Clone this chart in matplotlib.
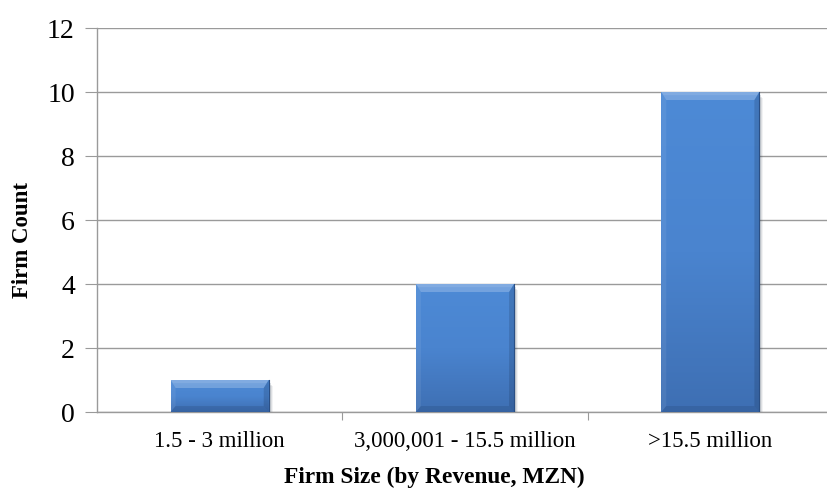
import matplotlib
matplotlib.use("Agg")
import matplotlib.pyplot as plt
import numpy as np
from matplotlib.patches import Polygon, Rectangle
from matplotlib.colors import LinearSegmentedColormap

categories = ["1.5 - 3 million", "3,000,001 - 15.5 million", ">15.5 million"]
firm_counts = [1, 4, 10]
y_ticks = [0, 2, 4, 6, 8, 10, 12]

W, H = 827, 496
fig = plt.figure(figsize=(W / 100, H / 100), dpi=100)
left, right, top, bottom = 97, 833, 28, 412
ax = fig.add_axes([left / W, 1 - bottom / H, (right - left) / W, (bottom - top) / H])

serif = ["Liberation Serif", "DejaVu Serif"]
grid_c = "#9a9a9a"

x = list(range(len(categories)))
bar_w = 0.40
bars = ax.bar(x, firm_counts, width=bar_w, color="none", edgecolor="none", zorder=3)

ax.set_xlim(-0.5, len(categories) - 0.5)
ax.set_ylim(0, 12)

grad = LinearSegmentedColormap.from_list("bar", ["#3e6fb3", "#4a84cf", "#4d8ad6"])
px_x = len(categories) / (right - left)
px_y = 12 / (bottom - top)
bt, bs, bb = 8, 5, 6  # bevel sizes in pixels: top, sides, bottom
for b in bars:
    x0, w, h = b.get_x(), b.get_width(), b.get_height()
    x1 = x0 + w
    # soft drop shadow
    for k, a in [(4, 0.06), (3, 0.09), (2, 0.12), (1, 0.16)]:
        ax.add_patch(Rectangle((x0 + k * px_x, -k * px_y * 0.6), w, h - k * px_y,
                               color="#1a2a40", alpha=a, zorder=2, lw=0))
    # vertical gradient body
    g = np.linspace(0, 1, 256).reshape(-1, 1)
    ax.imshow(g, cmap=grad, origin="lower", extent=(x0, x1, 0, h), aspect="auto",
              zorder=3, interpolation="bilinear")
    tx, ty = bs * px_x, bt * px_y
    sx = bs * px_x
    by_ = bb * px_y
    # top facet (light)
    ax.add_patch(Polygon([(x0, h), (x1, h), (x1 - tx, h - ty), (x0 + tx, h - ty)],
                         closed=True, color="white", alpha=0.22, lw=0, zorder=4))
    ax.add_patch(Polygon([(x0, h), (x1, h), (x1 - tx * 0.5, h - ty * 0.4), (x0 + tx * 0.5, h - ty * 0.4)],
                         closed=True, color="white", alpha=0.10, lw=0, zorder=4))
    # left facet
    ax.add_patch(Polygon([(x0, h), (x0 + sx, h - ty), (x0 + sx, by_), (x0, 0)],
                         closed=True, color="white", alpha=0.07, lw=0, zorder=4))
    # right facet
    ax.add_patch(Polygon([(x1, h), (x1 - sx, h - ty), (x1 - sx, by_), (x1, 0)],
                         closed=True, color="#0a1830", alpha=0.16, lw=0, zorder=4))
    # bottom facet
    ax.add_patch(Polygon([(x0, 0), (x1, 0), (x1 - sx, by_), (x0 + sx, by_)],
                         closed=True, color="#0a1830", alpha=0.12, lw=0, zorder=4))
    # thin darker outline on right/bottom
    ax.plot([x1, x1], [0, h], color="#2a4f85", lw=0.8, zorder=5)
    ax.plot([x0, x1], [0, 0], color="#2a4f85", lw=0.8, zorder=5)

ax.set_xlim(-0.5, len(categories) - 0.5)
ax.set_ylim(0, 12)

ax.set_yticks(y_ticks)
ax.set_yticklabels([str(v) for v in y_ticks], family=serif, fontsize=20)
ax.yaxis.grid(True, color=grid_c, lw=1.0, zorder=0)
ax.set_axisbelow(True)

ax.set_xticks([i + 0.5 for i in x[:-1]], minor=False)
ax.set_xticklabels([])
ax.set_xticks(x, minor=True)
ax.set_xticklabels(categories, minor=True, family=serif, fontsize=16.5)
ax.tick_params(axis="x", which="minor", length=0, pad=14)
ax.tick_params(axis="x", which="major", length=6, color=grid_c, direction="out")
ax.tick_params(axis="y", length=9, color=grid_c, pad=7)

for s in ["top", "right"]:
    ax.spines[s].set_visible(False)
for s in ["left", "bottom"]:
    ax.spines[s].set_color(grid_c)
    ax.spines[s].set_linewidth(1.0)

fig.text(23 / W, 1 - 240 / H, "Firm Count", family=serif, fontsize=16.5,
         fontweight="bold", rotation=90, ha="center", va="center")
fig.text(434 / W, 1 - 477 / H, "Firm Size (by Revenue, MZN)", family=serif,
         fontsize=16.8, fontweight="bold", ha="center", va="center")

fig.savefig("out.png", dpi=100)
